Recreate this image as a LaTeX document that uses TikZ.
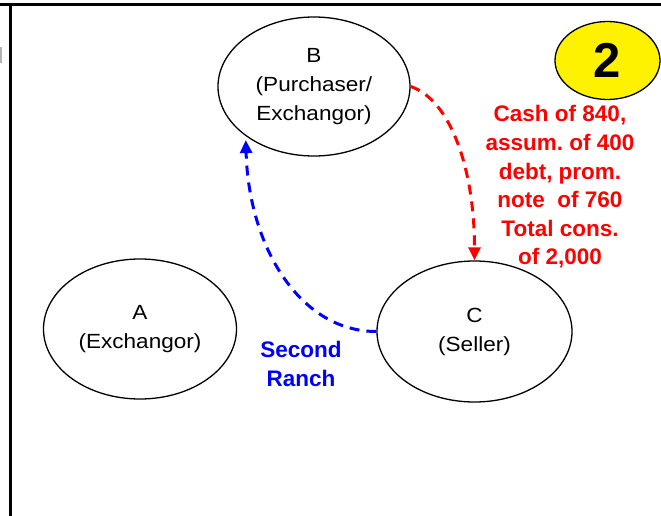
\documentclass[tikz,border=0pt]{standalone}
\usepackage{fontspec}
\setmainfont{Liberation Sans}
\newfontfamily\boxfont{Liberation Sans}[FakeStretch=1.1]
\usetikzlibrary{arrows.meta}
\usetikzlibrary{shapes.geometric}
\frenchspacing

\begin{document}
\begin{tikzpicture}[x=1pt, y=-1pt,
        party/.style={draw, ellipse, line width=1.3pt, minimum width=193pt, minimum height=140pt,
          inner sep=0pt, align=center, font=\boxfont\fontsize{20.5}{29}\selectfont},
        flow/.style={line width=3pt, dash pattern=on 10pt off 7pt, -{Triangle[length=13pt, width=12pt]}},
        note/.style={align=center, font=\bfseries\fontsize{22.5}{28.6}\selectfont}]
        \useasboundingbox (0, 0) rectangle (661, 516);
        \draw[line width=3pt] (0, 4.5) -- (661, 4.5);
        \draw[line width=3pt] (10.5, 3) -- (10.5, 516);
        \fill[gray!60] (0, 47) rectangle (2, 63);

        \node (1) [party] at (140, 329)   {A\\(Exchangor)};
        \node (2) [party, minimum width=192pt, minimum height=139pt] at (314, 86.5) {B\\(Purchaser/\\Exchangor)};
        \node (3) [party, minimum width=195pt, minimum height=141pt] at (474.5, 331.5) {C\\(Seller)};
        \node (4) [draw, ellipse, fill=yellow, line width=1.3pt, minimum width=105pt, minimum height=78pt,
          inner sep=0pt, font=\bfseries\fontsize{49}{49}\selectfont] at (607.5, 60.5) {2};
        \node (5) [note, text=red] at (560, 187)  {Cash of 840,\\assum. of 400\\debt, prom.\\note\ \ of 760\\Total cons.\\of 2,000};
        \node (6) [note, text=blue] at (301, 364) {Second\\Ranch};

        \draw[flow, red]  (2.east) .. controls +(40, 13.5) and +(0, -91) .. (3.north);
        \draw[flow, blue, shorten >=4pt] (3.west) .. controls +(-77, 0) and +(3, 110) .. (2.south west);
      \end{tikzpicture}
\end{document}
